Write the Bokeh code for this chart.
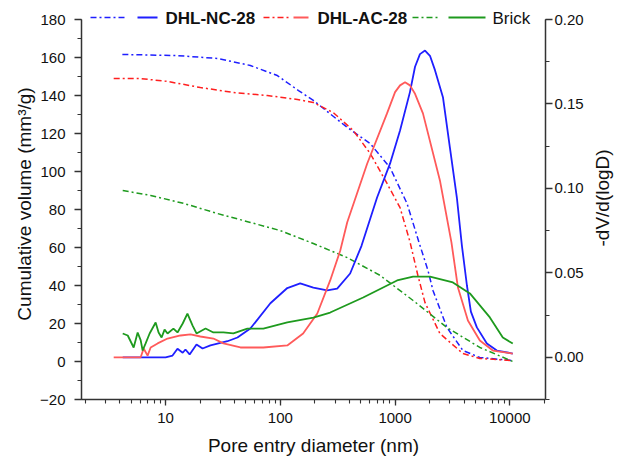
from bokeh.plotting import figure
from bokeh.layouts import row
from bokeh.models import (Range1d, LinearAxis, SingleIntervalTicker, NumeralTickFormatter,
                          Label, Arrow, LogTicker, Title)
from bokeh.embed import file_html
from bokeh.resources import INLINE

# ---------------- data ----------------
# cumulative volume (mm3/g), left axis
nc_cum_d = [4.2, 12.7, 28.3, 54.8, 94.2, 144, 194, 383, 607, 905, 1271, 1620, 1935, 2140, 2831, 3900, 5481, 10610]
nc_cum_v = [161.6, 161.0, 159.5, 155.8, 150.5, 142.6, 137.4, 123.2, 114.7, 102.0, 83.2, 62.5, 48.0, 37.4, 17.9, 5.8, 2.1, 0.5]

ac_cum_d = [3.53, 6.07, 10.4, 20.1, 39.0, 77.1, 141, 194, 289, 432, 607, 851, 1105, 1349, 1585, 1824, 2460, 3900, 5481, 10610]
ac_cum_v = [148.9, 148.9, 147.4, 144.2, 141.6, 140.0, 137.9, 136.3, 131.0, 121.6, 109.5, 93.7, 81.0, 63.0, 45.0, 31.0, 14.7, 4.2, 1.6, 0.5]

br_cum_d = [4.23, 7.41, 14.4, 28.3, 54.8, 100, 194, 383, 741, 1436, 2831, 5481, 10610]
br_cum_v = [90.0, 87.4, 83.2, 77.9, 73.2, 68.9, 62.1, 54.7, 45.3, 32.1, 17.9, 7.4, 0.0]

# -dV/d(logD), right axis
nc_dv_d = [4.23, 10.0, 11.5, 12.7, 14.1, 14.9, 16.2, 18.6, 21.0, 24.6, 28.9, 34.6, 42.3, 54.8, 81.9, 115, 149,
           194, 256, 313, 406, 510, 697, 905, 1105, 1348, 1493, 1648, 1824, 2015, 2228, 2614, 3006, 3456,
           3826, 4230, 4580, 5164, 6310, 7713, 10610]
nc_dv_v = [0.0, 0.0, 0.001, 0.005, 0.0027, 0.0046, 0.0017, 0.0076, 0.0052, 0.007, 0.0082, 0.0095, 0.0117,
           0.017, 0.032, 0.041, 0.0437, 0.0413, 0.0396, 0.0407, 0.0496, 0.066, 0.0946, 0.1148, 0.1343,
           0.157, 0.172, 0.1795, 0.1816, 0.1785, 0.170, 0.154, 0.1242, 0.0946, 0.066, 0.0425, 0.027,
           0.0177, 0.0082, 0.004, 0.0022]

ac_dv_d = [3.53, 6.07, 6.44, 6.97, 7.41, 8.52, 10.4, 13.5, 16.5, 20.1, 26.1, 31.9, 44.9, 71.1, 115, 158, 210,
           272, 333, 383, 571, 851, 1000, 1105, 1222, 1349, 1493, 1750, 2460, 3100, 3532, 4314, 5481, 7117,
           10610]
ac_dv_v = [0.0, 0.0, 0.0052, 0.001, 0.0058, 0.0082, 0.0111, 0.0129, 0.0135, 0.0123, 0.0111, 0.0082, 0.0058,
           0.0058, 0.007, 0.0141, 0.0259, 0.0455, 0.0632, 0.080, 0.1146, 0.1444, 0.157, 0.161, 0.1628,
           0.161, 0.156, 0.1444, 0.1047, 0.068, 0.0413, 0.0218, 0.0099, 0.004, 0.0022]

br_dv_d = [4.23, 4.68, 5.27, 5.71, 6.07, 6.31, 6.70, 7.26, 8.19, 8.69, 9.23, 9.80, 10.4, 11.7, 12.7, 14.1, 15.5,
           17.2, 18.6, 22.3, 26.1, 31.9, 39.0, 51.6, 71.1, 115, 194, 272, 527, 1041, 1436, 2015, 3192, 4490,
           6702, 8690, 10610]
br_dv_v = [0.0141, 0.0129, 0.0058, 0.0147, 0.010, 0.004, 0.0082, 0.0141, 0.0206, 0.0147, 0.0117, 0.0164,
           0.0141, 0.017, 0.0147, 0.020, 0.0259, 0.0188, 0.0141, 0.017, 0.0147, 0.0147, 0.0141, 0.017, 0.017,
           0.0206, 0.0235, 0.0265, 0.0354, 0.0455, 0.0478, 0.0478, 0.0443, 0.0378, 0.0236, 0.0117, 0.0081]

series_names = ["DHL-NC-28", "DHL-AC-28", "Brick"]

# axis limits
X_MIN, X_MAX = 1.85, 20470
Y_MIN, Y_MAX = -20, 180
R_MIN, R_MAX = -0.025, 0.20

# ---------------- styling / layout ----------------
BLUE = "#1f1fff"
RED_SOLID = "#ff5a5a"
RED_DASH = "#ff1f1f"
GREEN = "#1e9a1e"
DASHDOT = "6 3 2 3"
FONT = "Liberation Sans"
AXIS_COLOR = "#333333"
TEXT_COLOR = "#111111"

W, H = 588, 461
SIDE_W = 620 - W                      # narrow strip that carries the right-hand axis title
FRAME_LEFT, FRAME_RIGHT = 81, 545
AXIS_TOP, FRAME_BOTTOM = 19, 399      # where y=180 / y=-20 sit
FRAME_TOP = 8                         # frame extends above the axes for the legend
RIGHT_TITLE_BOTTOM = 246              # lower end of the rotated right-hand title

# extend ranges upward so the (bounded) axes still end at 180 / 0.20
px_per_unit_l = (FRAME_BOTTOM - AXIS_TOP) / (Y_MAX - Y_MIN)
px_per_unit_r = (FRAME_BOTTOM - AXIS_TOP) / (R_MAX - R_MIN)
extra_px = AXIS_TOP - FRAME_TOP

p = figure(width=W, height=H, x_axis_type="log",
           x_range=Range1d(X_MIN, X_MAX),
           y_range=Range1d(Y_MIN, Y_MAX + extra_px / px_per_unit_l),
           output_backend="svg", toolbar_location=None,
           min_border_left=FRAME_LEFT, min_border_right=W - FRAME_RIGHT,
           min_border_top=FRAME_TOP, min_border_bottom=H - FRAME_BOTTOM)
p.extra_y_ranges = {"dv": Range1d(R_MIN, R_MAX + extra_px / px_per_unit_r)}
p.outline_line_color = None
p.xgrid.visible = False
p.ygrid.visible = False
p.background_fill_color = "white"
p.border_fill_color = "white"

def style_axis(ax):
    ax.axis_line_color = AXIS_COLOR
    ax.axis_line_width = 1.5
    ax.major_tick_line_color = AXIS_COLOR
    ax.minor_tick_line_color = AXIS_COLOR
    ax.major_tick_line_width = 1.3
    ax.minor_tick_line_width = 1.1
    ax.major_tick_in = 0
    ax.minor_tick_in = 0
    ax.major_tick_out = 7
    ax.minor_tick_out = 4
    ax.major_label_text_font = FONT
    ax.major_label_text_font_size = "15px"
    ax.major_label_text_color = TEXT_COLOR
    ax.axis_label_text_font = FONT
    ax.axis_label_text_font_size = "19px"
    ax.axis_label_text_font_style = "normal"
    ax.axis_label_text_color = TEXT_COLOR

# bottom axis
xa = p.xaxis[0]
style_axis(xa)
xa.ticker = LogTicker(num_minor_ticks=10)
xa.formatter = NumeralTickFormatter(format="0")
xa.major_tick_out = 6
xa.major_label_standoff = 7
xa.axis_label_standoff = 9
xa.axis_label = "Pore entry diameter (nm)"

# left axis
ya = p.yaxis[0]
style_axis(ya)
ya.ticker = SingleIntervalTicker(interval=20, num_minor_ticks=2)
ya.bounds = (Y_MIN, Y_MAX)
ya.major_label_standoff = 9
ya.axis_label_standoff = 2
ya.axis_label = "Cumulative volume (mm³/g)"

# right axis
ra = LinearAxis(y_range_name="dv")
style_axis(ra)
ra.ticker = SingleIntervalTicker(interval=0.05, num_minor_ticks=2)
ra.formatter = NumeralTickFormatter(format="0.00")
ra.bounds = (R_MIN, R_MAX)
ra.major_label_standoff = 2
p.add_layout(ra, "right")

# ---------------- curves ----------------
p.line(nc_cum_d, nc_cum_v, line_color=BLUE, line_width=1.5, line_dash=DASHDOT)
p.line(ac_cum_d, ac_cum_v, line_color=RED_DASH, line_width=1.5, line_dash=DASHDOT)
p.line(br_cum_d, br_cum_v, line_color=GREEN, line_width=1.5, line_dash=DASHDOT)

p.line(nc_dv_d, nc_dv_v, line_color=BLUE, line_width=1.8, y_range_name="dv")
p.line(ac_dv_d, ac_dv_v, line_color=RED_SOLID, line_width=1.8, y_range_name="dv")
p.line(br_dv_d, br_dv_v, line_color=GREEN, line_width=1.8, y_range_name="dv")

# ---------------- manual legend (screen units, relative to frame bottom-left) ----------------
def sx(page_x):
    return page_x - FRAME_LEFT
def sy(page_y):
    return FRAME_BOTTOM - page_y

leg = [
    # (dash start, dash end, solid start, solid end, label x, color dash, color solid, weight)
    (90, 127, 137, 157, 165, BLUE, BLUE, "bold"),
    (263, 290, 293, 308, 317, RED_DASH, RED_SOLID, "bold"),
    (412, 440, 448, 485, 492, GREEN, GREEN, "normal"),
]
ly = 17
for (d0, d1, s0, s1, lx, cd, cs, fs), name in zip(leg, series_names):
    p.add_layout(Arrow(x_start=sx(d0), y_start=sy(ly), x_end=sx(d1), y_end=sy(ly),
                       start_units="screen", end_units="screen", start=None, end=None,
                       line_color=cd, line_width=1.5, line_dash=DASHDOT))
    p.add_layout(Arrow(x_start=sx(s0), y_start=sy(ly), x_end=sx(s1), y_end=sy(ly),
                       start_units="screen", end_units="screen", start=None, end=None,
                       line_color=cs, line_width=1.8))
    p.add_layout(Label(x=sx(lx), y=sy(ly + 1), x_units="screen", y_units="screen",
                       text=name, text_align="left", text_baseline="middle",
                       text_font=FONT, text_font_size="17px", text_font_style=fs, text_color=TEXT_COLOR))

# ---------------- right-hand axis title, reading bottom-to-top ----------------
# same frame borders as the main plot so the row keeps the frames aligned
p2 = figure(width=SIDE_W, height=H, output_backend="svg", toolbar_location=None,
            x_axis_location=None, y_axis_location=None,
            min_border_left=0, min_border_right=0,
            min_border_top=FRAME_TOP, min_border_bottom=H - FRAME_BOTTOM)
p2.outline_line_color = None
p2.background_fill_color = "white"
p2.border_fill_color = "white"
p2.grid.visible = False
p2.add_layout(Title(text="-dV/d(logD)", align="left", text_font=FONT, text_font_size="19px",
                    text_font_style="normal", text_color=TEXT_COLOR, standoff=2,
                    offset=FRAME_BOTTOM - RIGHT_TITLE_BOTTOM), "left")

layout = row(p, p2)
open("out.html", "w").write(file_html(layout, INLINE))
